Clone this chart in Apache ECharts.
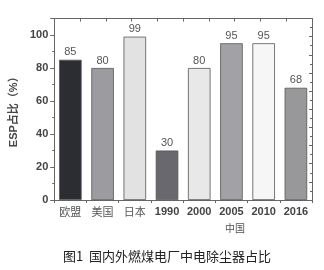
<!DOCTYPE html>
<html><head><meta charset="utf-8">
<script src="https://cdn.jsdelivr.net/npm/echarts@6/dist/echarts.min.js"></script>
<style>html,body{margin:0;padding:0;background:#fff}#c{width:324px;height:270px}</style>
</head><body><div id="c"></div>
<script>
var categories = ['欧盟','美国','日本','1990','2000','2005','2010','2016'];
var values = [85, 80, 99, 30, 80, 95, 95, 68];
var barColors = ['#2b2d33','#9c9ca0','#e2e2e2','#68686e','#e8e8e8','#a2a2a6','#f6f6f6','#98989b'];
var yTicks = [0, 20, 40, 60, 80, 100];
var groupLabel = '中国';
var caption = '图1  国内外燃煤电厂中电除尘器占比';
var yName = 'ESP占比（%）';

var chart = echarts.init(document.getElementById('c'), null, {renderer:'canvas'});
var axisCol = '#666';
chart.setOption({
  animation:false,
  backgroundColor:'#fff',
  grid:{left:50, right:12, top:18.5, bottom:70},
  xAxis:[{
    type:'category', data:categories, position:'bottom',
    axisLine:{lineStyle:{color:axisCol, width:1}},
    axisTick:{show:true, alignWithLabel:false, length:3, lineStyle:{color:axisCol}},
    axisLabel:{interval:0, margin:6, formatter:function(v){return /^\d+$/.test(v)?'{y|'+v+'}':'{c|'+v+'}';},
      rich:{y:{fontFamily:'Liberation Sans, Arial', fontWeight:'bold', fontSize:11, color:'#444'},
            c:{fontFamily:'Noto Sans CJK SC', fontWeight:'normal', fontSize:11, color:'#555'}}}
  },{
    type:'value', position:'top', min:0, max:10, interval:1,
    axisLine:{show:true, onZero:false, lineStyle:{color:axisCol}},
    axisTick:{show:true, inside:true, length:3, lineStyle:{color:axisCol}},
    axisLabel:{show:false}, splitLine:{show:false}
  }],
  yAxis:[{
    type:'value', min:0, max:110, interval:20,
    name:yName, nameLocation:'middle', nameGap:28, nameRotate:90,
    nameTextStyle:{fontFamily:'Liberation Sans, Noto Sans CJK SC', fontSize:11, fontWeight:'bold', color:'#444'},
    axisLine:{show:true, lineStyle:{color:axisCol}},
    axisTick:{show:true, length:4, lineStyle:{color:axisCol}},
    minorTick:{show:true, splitNumber:2, length:2, lineStyle:{color:axisCol}},
    axisLabel:{fontFamily:'Liberation Sans, Arial', fontWeight:'bold', fontSize:11, color:'#444', margin:6,
      formatter:function(v){return yTicks.indexOf(v)>=0?String(v):'';}},
    splitLine:{show:false}
  },{
    type:'value', position:'right', min:0, max:20, interval:2,
    axisLine:{show:true, lineStyle:{color:axisCol}},
    axisTick:{show:true, inside:true, length:3, lineStyle:{color:axisCol}},
    minorTick:{show:true, splitNumber:2, length:2, lineStyle:{color:axisCol}},
    axisLabel:{show:false}, splitLine:{show:false}
  }],
  series:[{
    type:'bar', xAxisIndex:0, yAxisIndex:0, barWidth:'70%',
    data:values.map(function(v,i){return {value:v, itemStyle:{color:barColors[i]}};}),
    itemStyle:{borderColor:'#555', borderWidth:0.8},
    label:{show:true, position:'top', distance:2, fontFamily:'Liberation Sans, Arial', fontSize:11, color:'#555'}
  }],
  graphic:[
    {type:'text', top:223, left:225, style:{text:groupLabel, font:'10px "Noto Sans CJK SC"', fill:'#555'}},
    {type:'text', top:250, left:63, style:{text:caption, font:'13px "Noto Sans CJK SC"', fill:'#222'}}
  ]
});
</script></body></html>
